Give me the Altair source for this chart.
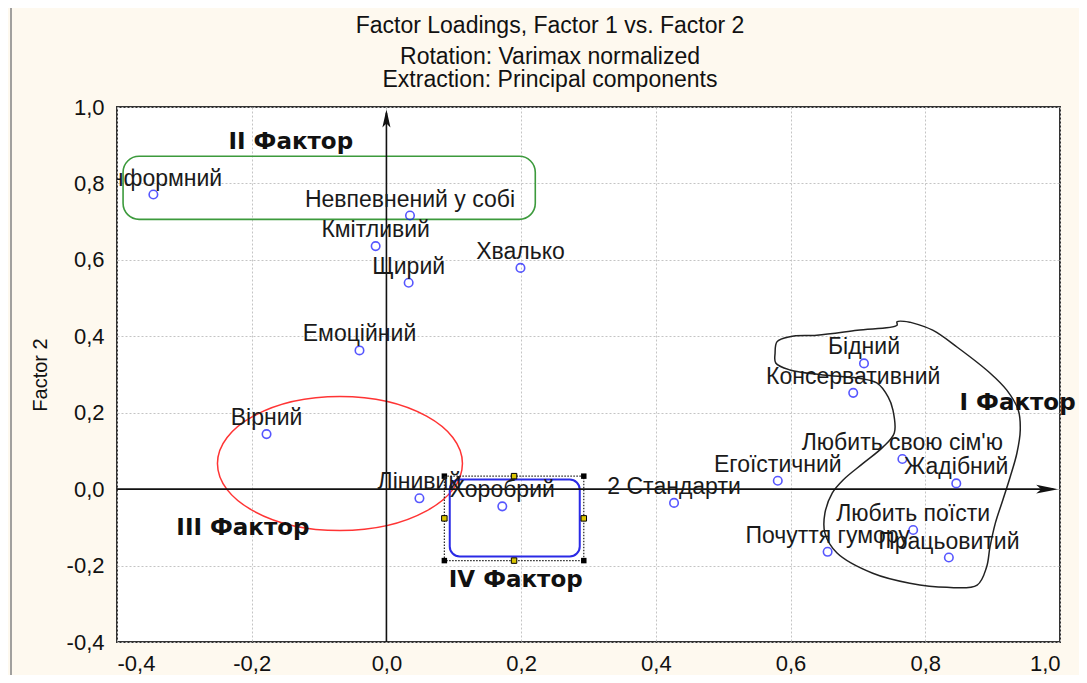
import altair as alt
import pandas as pd

# ---------------- data ----------------
labels = ["Конформний", "Невпевнений у собі", "Кмітливий", "Щирий", "Хвалько",
          "Емоційний", "Вірний", "Лінивий", "Хоробрий", "2 Стандарти",
          "Егоїстичний", "Бідний", "Консервативний", "Любить свою сім'ю",
          "Жадібний", "Любить поїсти", "Почуття гумору", "Працьовитий"]
factor1 = [-0.346, 0.035, -0.016, 0.033, 0.199, -0.040, -0.178, 0.049, 0.172, 0.427,
           0.581, 0.709, 0.693, 0.766, 0.846, 0.782, 0.655, 0.835]
factor2 = [0.771, 0.716, 0.636, 0.540, 0.579, 0.363, 0.144, -0.024, -0.045, -0.036,
           0.022, 0.329, 0.252, 0.079, 0.015, -0.107, -0.164, -0.179]
tick_values = [-0.4, -0.2, 0.0, 0.2, 0.4, 0.6, 0.8, 1.0]

title_lines = ["Factor Loadings, Factor 1 vs. Factor 2",
               "Rotation: Varimax normalized",
               "Extraction: Principal components"]

# annotation group labels (data coordinates)
group_names = ["I Фактор", "II Фактор", "III Фактор", "IV Фактор"]
group_x = [0.937, -0.142, -0.213, 0.192]
group_y = [0.206, 0.889, -0.119, -0.256]

# green rounded box (factor II)
green_box = dict(f1=[-0.391], f2=[0.871], f1b=[0.221], f2b=[0.706])
# blue rounded box (factor IV) and its dotted selection frame
blue_box = dict(f1=[0.094], f2=[0.025], f1b=[0.287], f2b=[-0.176])
sel_box = dict(f1=[0.086], f2=[0.034], f1b=[0.293], f2b=[-0.187])
# red ellipse (factor III): centre
ellipse_c = dict(f1=[-0.069], f2=[0.067])
# hand-drawn outline (factor I)
curve_x = [0.777, 0.758, 0.758, 0.699, 0.639, 0.599, 0.580, 0.577, 0.578, 0.599,
           0.648, 0.699, 0.728, 0.745, 0.752, 0.754, 0.737, 0.708, 0.678, 0.662,
           0.651, 0.651, 0.669, 0.722, 0.777, 0.832, 0.877, 0.891, 0.896, 0.904,
           0.915, 0.926, 0.936, 0.941, 0.938, 0.921, 0.896, 0.847, 0.811, 0.777]
curve_y = [0.437, 0.438, 0.429, 0.416, 0.403, 0.399, 0.386, 0.356, 0.330, 0.312,
           0.299, 0.291, 0.278, 0.241, 0.207, 0.147, 0.110, 0.068, 0.024, -0.010,
           -0.063, -0.115, -0.167, -0.220, -0.246, -0.257, -0.251, -0.204, -0.152, -0.089,
           -0.029, 0.032, 0.094, 0.155, 0.207, 0.259, 0.304, 0.372, 0.416, 0.437]
# axis arrows
axis_lines = dict(f1=[0.0, -0.4], f2=[-0.4, 0.0], f1b=[0.0, 0.99], f2b=[0.985, 0.0])
arrow_up = dict(f1=[0.0], f2=[0.970])
arrow_right = dict(f1=[0.981], f2=[0.0])

# ---------------- encodings ----------------
FONT = "Liberation Sans"
lbl_expr = "replace(replace(format(datum.value, '.1f'), '.', ','), '\u2212', '-')"
X = alt.X("f1:Q",
          scale=alt.Scale(domain=[-0.4, 1.0], nice=False, zero=False),
          axis=alt.Axis(values=tick_values, labelExpr=lbl_expr, title=None,
                        grid=True, gridDash=[2, 2], gridColor="#c4c4c4",
                        ticks=False, domain=False, labelFont=FONT,
                        labelFontSize=22, labelColor="#111", labelPadding=11))
Y = alt.Y("f2:Q",
          scale=alt.Scale(domain=[-0.4, 1.0], nice=False, zero=False),
          axis=alt.Axis(values=tick_values, labelExpr=lbl_expr, title="Factor 2",
                        grid=True, gridDash=[2, 2], gridColor="#c4c4c4",
                        ticks=False, domain=False, labelFont=FONT,
                        labelFontSize=22, labelColor="#111", labelPadding=13,
                        titleFont=FONT, titleFontSize=20, titleFontWeight="normal",
                        titleColor="#111", titlePadding=16))
X2 = alt.X2("f1b:Q")
Y2 = alt.Y2("f2b:Q")

pts = pd.DataFrame({"name": labels, "f1": factor1, "f2": factor2})

points = alt.Chart(pts).mark_point(
    shape="circle", size=72, filled=False, color="#1010ff", strokeWidth=1.6
).encode(x=X, y=Y)

texts = alt.Chart(pts).mark_text(
    font=FONT, fontSize=23, color="#1a1a1a", align="center",
    baseline="alphabetic", dy=-9, clip=True
).encode(x=X, y=Y, text="name:N")

groups = alt.Chart(pd.DataFrame({"name": group_names, "f1": group_x, "f2": group_y})).mark_text(
    font="DejaVu Sans", fontWeight="bold", fontSize=23, color="#111",
    align="center", baseline="alphabetic"
).encode(x=X, y=Y, text="name:N")

green = alt.Chart(pd.DataFrame(green_box)).mark_rect(
    fillOpacity=0, stroke="#3c9a3c", strokeWidth=1.6, cornerRadius=16
).encode(x=X, y=Y, x2=X2, y2=Y2)

sel = alt.Chart(pd.DataFrame(sel_box)).mark_rect(
    fillOpacity=0, stroke="#222", strokeWidth=1.2, strokeDash=[1.5, 1.5]
).encode(x=X, y=Y, x2=X2, y2=Y2)

blue = alt.Chart(pd.DataFrame(blue_box)).mark_rect(
    fillOpacity=0, stroke="#2a2ae6", strokeWidth=2, cornerRadius=10
).encode(x=X, y=Y, x2=X2, y2=Y2)

sx0, sx1 = sel_box["f1"][0], sel_box["f1b"][0]
sy0, sy1 = sel_box["f2"][0], sel_box["f2b"][0]
handles_corner = pd.DataFrame({"f1": [sx0, sx1, sx0, sx1], "f2": [sy0, sy0, sy1, sy1]})
handles_mid = pd.DataFrame({"f1": [(sx0 + sx1) / 2, (sx0 + sx1) / 2, sx0, sx1],
                            "f2": [sy0, sy1, (sy0 + sy1) / 2, (sy0 + sy1) / 2]})
hc = alt.Chart(handles_corner).mark_point(shape="square", size=30, filled=True,
                                          color="#000", opacity=1).encode(x=X, y=Y)
hm = alt.Chart(handles_mid).mark_point(shape="square", size=30, filled=True,
                                       color="#d9c400", stroke="#000", strokeWidth=1,
                                       opacity=1).encode(x=X, y=Y)

ellipse = alt.Chart(pd.DataFrame(ellipse_c)).mark_point(
    shape="M-1,0A1,0.547,0,1,1,1,0A1,0.547,0,1,1,-1,0Z",
    size=245 * 245, filled=False, color="#ff3434", strokeWidth=1.5, opacity=1
).encode(x=X, y=Y)

curve = alt.Chart(pd.DataFrame({"f1": curve_x, "f2": curve_y,
                                "i": list(range(len(curve_x)))})).mark_line(
    color="#222", strokeWidth=1.5, interpolate="catmull-rom"
).encode(x=X, y=Y, order="i:Q")

lines = alt.Chart(pd.DataFrame(axis_lines)).mark_rule(
    color="#111", strokeWidth=1.6
).encode(x=X, y=Y, x2=X2, y2=Y2)

up = alt.Chart(pd.DataFrame(arrow_up)).mark_point(
    shape="M0,-1L0.45,1L0,0.55L-0.45,1Z", size=324, filled=True,
    color="#111", opacity=1
).encode(x=X, y=Y)

right = alt.Chart(pd.DataFrame(arrow_right)).mark_point(
    shape="M1,0L-1,-0.4L-0.55,0L-1,0.4Z", size=484, filled=True,
    color="#111", opacity=1
).encode(x=X, y=Y)

border = alt.Chart(pd.DataFrame({"a": [0]})).mark_rule(
    color="#8a8a8a", strokeWidth=1.6
).encode(x=alt.value(-106), y=alt.value(-100), y2=alt.value(570))

# chart title (three centred lines above the plot)
title_y = [-74, -43, -20]
title_layers = [
    alt.Chart(pd.DataFrame({"t": [line]})).mark_text(
        font=FONT, fontSize=23, color="#111", align="center", baseline="alphabetic"
    ).encode(text="t:N", x=alt.value(433), y=alt.value(ty))
    for line, ty in zip(title_lines, title_y)
]

chart = alt.layer(
    border, green, ellipse, sel, blue, hc, hm, curve, lines, up, right,
    points, texts, groups, *title_layers
).properties(
    width=943, height=535,
    padding={"left": 109, "top": 99, "right": 19, "bottom": 33},
    autosize="none",
    background="#fef9ef",
).configure_view(
    fill="#ffffff", stroke="#333333", strokeWidth=2
)

chart.save("out.html", embed_options={"renderer": "svg", "actions": False})
